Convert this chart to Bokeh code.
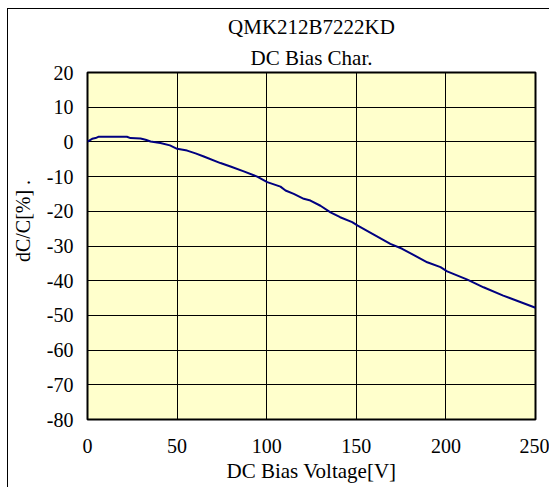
from bokeh.plotting import figure
from bokeh.models import Range1d, FixedTicker, Title
from bokeh.embed import file_html
from bokeh.resources import INLINE

# Data
voltage = [0, 2.6, 4.5, 6.3, 22, 24, 29.6, 32.4, 35.2, 40.7, 46, 50, 55.6, 60.3,
           64.9, 74.2, 79.8, 87.2, 94.7, 100.3, 107.7, 110.5, 115.1, 120.7, 124.4,
           130, 135.6, 141, 147.7, 150.8, 169, 175.6, 189.6, 197, 200.7, 212, 221,
           232, 250]
dc_change = [0.1, 0.9, 1.1, 1.5, 1.5, 1.1, 1.0, 0.6, 0.1, -0.3, -1.0, -2.0, -2.5, -3.3,
             -4.2, -6.1, -7.1, -8.5, -10.0, -11.6, -12.9, -14.0, -15.0, -16.4, -16.9,
             -18.4, -20.3, -21.7, -23.1, -24.1, -29.4, -30.8, -34.7, -36.1, -37.3, -39.7,
             -41.9, -44.3, -47.8]
x_ticks = [0, 50, 100, 150, 200, 250]
y_ticks = [-80, -70, -60, -50, -40, -30, -20, -10, 0, 10, 20]
title_lines = ["QMK212B7222KD", "DC Bias Char."]
x_label = "DC Bias Voltage[V]"
y_label = "dC/C[%] ."

FONT = "Liberation Serif"

p = figure(width=542, height=479, output_backend="svg", toolbar_location=None,
           x_range=Range1d(0, 250), y_range=Range1d(-80, 20),
           min_border_left=79, min_border_right=15, min_border_top=63,
           min_border_bottom=69)
p.styles = {"border-left": "1px solid black", "border-top": "1px solid black",
            "margin-left": "7px", "margin-top": "8px"}

p.background_fill_color = "#FFFFCC"
p.border_fill_color = "white"
p.outline_line_color = "black"
p.outline_line_width = 2

p.xaxis.ticker = FixedTicker(ticks=x_ticks)
p.yaxis.ticker = FixedTicker(ticks=y_ticks)
p.yaxis.major_label_overrides = {t: str(t) for t in y_ticks}
p.xaxis.major_label_overrides = {t: str(t) for t in x_ticks}
for ax in (p.xaxis, p.yaxis):
    ax.axis_line_color = None
    ax.major_tick_line_color = None
    ax.minor_tick_line_color = None
    ax.major_tick_out = 0
    ax.major_tick_in = 0
    ax.major_label_text_font = FONT
    ax.major_label_text_font_size = "20px"
    ax.major_label_text_color = "black"
    ax.major_label_standoff = 14
    ax.axis_label_text_font = FONT
    ax.axis_label_text_font_size = "20px"
    ax.axis_label_text_font_style = "normal"
    ax.axis_label_text_color = "black"

p.xaxis.major_label_standoff = 19
p.xaxis.axis_label = x_label
p.xaxis.axis_label_text_font_size = "21px"
p.xaxis.axis_label_standoff = 3
# leading no-break spaces shift the label upward, as in the reference
p.yaxis.axis_label = "\u00a0" * 10 + y_label
p.yaxis.axis_label_standoff = 10

p.xgrid.grid_line_color = "black"
p.ygrid.grid_line_color = "black"
p.xgrid.grid_line_width = 1
p.ygrid.grid_line_width = 1

p.line(voltage, dc_change, line_color="#000080", line_width=2)

# Two-line title (first added sits closest to the plot)
for txt in (title_lines[1], title_lines[0]):
    p.add_layout(Title(text=txt, align="center", text_font=FONT,
                       text_font_size="21px", text_font_style="normal",
                       text_color="black", standoff=5), "above")

open("out.html", "w").write(file_html(p, INLINE))
